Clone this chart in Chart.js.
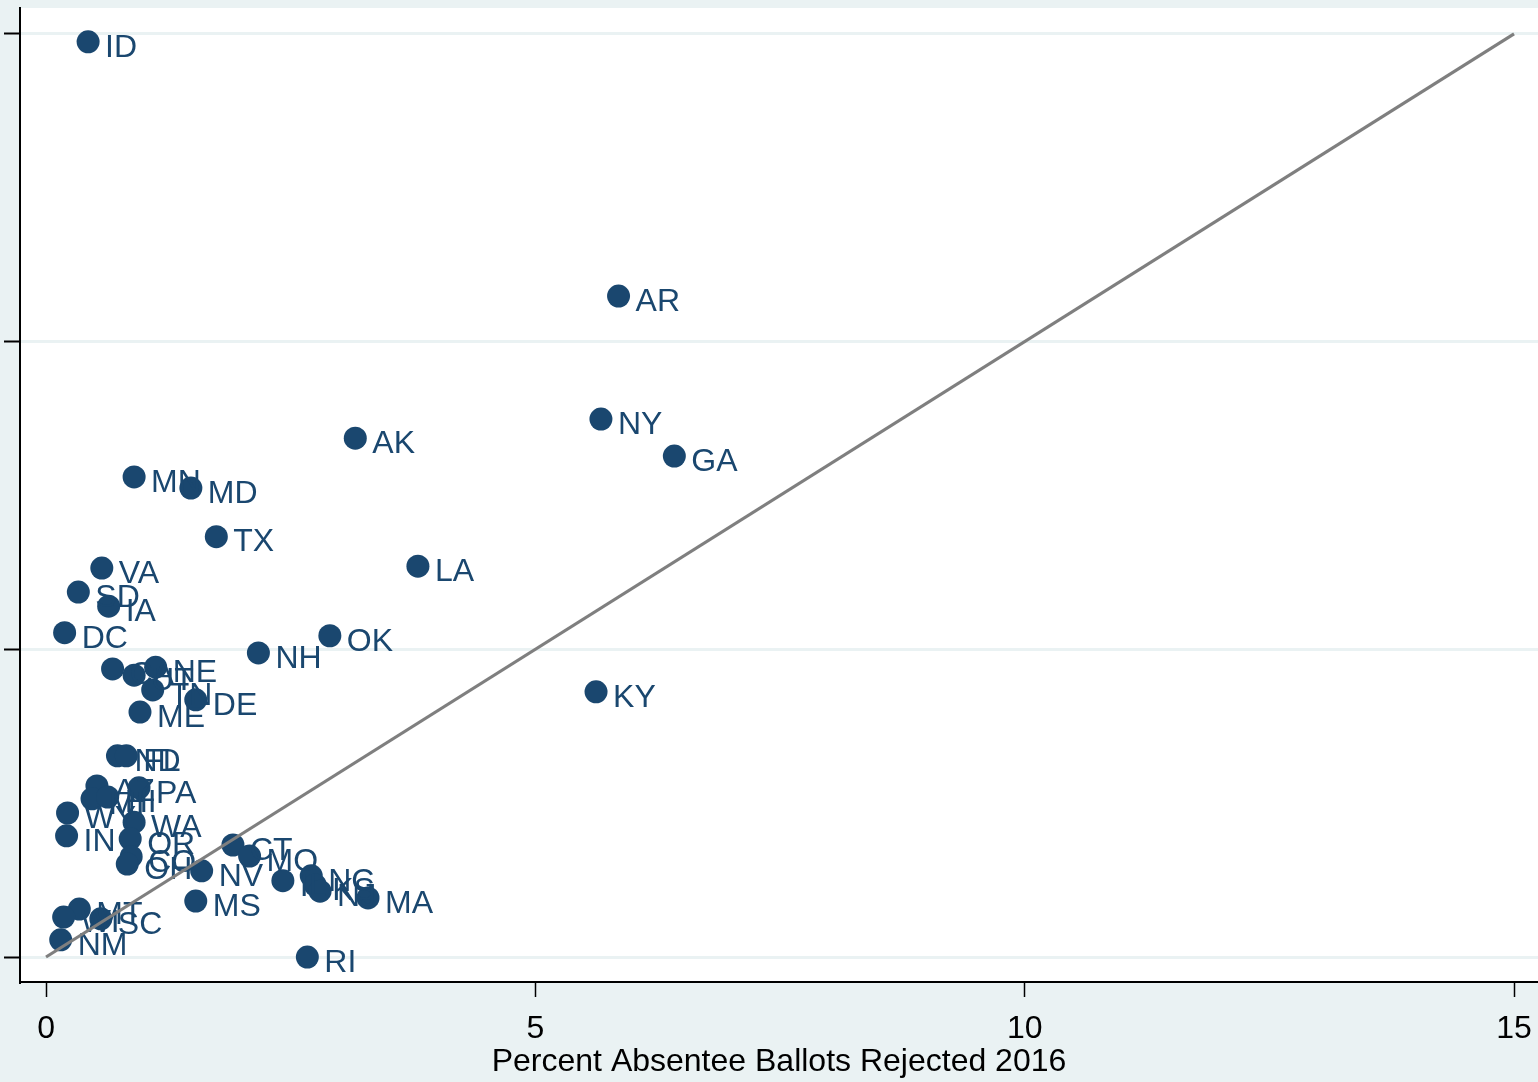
<!DOCTYPE html>
<html>
<head>
<meta charset="utf-8">
<script src="https://cdn.jsdelivr.net/npm/chart.js@4"></script>
<style>
  html, body { margin: 0; padding: 0; background: #eaf2f3; overflow: hidden; }
  #wrap { width: 1538px; height: 1082px; position: relative; }
</style>
</head>
<body>
<div id="wrap"><canvas id="scatterChart"></canvas></div>
<script>
// State codes and values
const states = [
  "ID", "AR", "NY", "GA", "AK", "MN", "MD", "TX", "LA", "VA",
  "SD", "IA", "DC", "OK", "NH", "KY", "CA", "UT", "NE", "TN",
  "DE", "ME", "ND", "FL", "AZ", "PA", "MI", "HI", "WY", "IN",
  "WA", "OR", "CO", "OH", "CT", "MO", "NV", "MS", "IL", "NC",
  "KS", "NJ", "MA", "RI", "NM", "MT", "WI", "SC"
];
const rejected2016 = [
  0.43, 5.85, 5.67, 6.42, 3.16, 0.90, 1.48, 1.74, 3.80, 0.57,
  0.33, 0.64, 0.19, 2.90, 2.17, 5.62, 0.68, 0.90, 1.12, 1.09,
  1.53, 0.96, 0.73, 0.82, 0.52, 0.95, 0.47, 0.63, 0.22, 0.21,
  0.90, 0.86, 0.87, 0.83, 1.91, 2.08, 1.59, 1.53, 2.42, 2.71,
  2.75, 2.80, 3.29, 2.67, 0.15, 0.34, 0.18, 0.56
];
const otherValue = [
  14.87, 10.74, 8.74, 8.14, 8.43, 7.80, 7.62, 6.83, 6.35, 6.32,
  5.93, 5.70, 5.27, 5.22, 4.94, 4.31, 4.68, 4.58, 4.71, 4.34,
  4.18, 3.98, 3.27, 3.27, 2.78, 2.75, 2.57, 2.60, 2.34, 1.97,
  2.19, 1.92, 1.63, 1.51, 1.82, 1.64, 1.40, 0.91, 1.24, 1.32,
  1.17, 1.07, 0.96, 0.00, 0.28, 0.78, 0.65, 0.62
];
// 45 degree reference line
const lineX = [0, 15];
const lineY = [0, 15];
const xTicks = [0, 5, 10, 15];
const yTicks = [0, 5, 10, 15];

const navy = "#1a476f";
const bgColor = "#eaf2f3";
const fontFamily = "'Liberation Sans', Arial, sans-serif";

// white plot region
const plotBackground = {
  id: "plotBackground",
  beforeDraw(chart) {
    const { ctx, chartArea } = chart;
    ctx.save();
    ctx.fillStyle = "#ffffff";
    ctx.fillRect(chartArea.left, chartArea.top, chartArea.right - chartArea.left, chartArea.bottom - chartArea.top);
    ctx.restore();
  },
};

// marker labels, drawn right after the scatter so the line sits on top
const markerLabels = {
  id: "markerLabels",
  afterDatasetDraw(chart, args) {
    if (args.index !== 1) return;
    const { ctx } = chart;
    ctx.save();
    ctx.fillStyle = navy;
    ctx.font = "32px " + fontFamily;
    ctx.textAlign = "left";
    ctx.textBaseline = "middle";
    args.meta.data.forEach((pt, i) => {
      ctx.fillText(states[i], pt.x + 17, pt.y + 6);
    });
    ctx.restore();
  },
};

new Chart(document.getElementById("scatterChart"), {
  type: "scatter",
  data: {
    datasets: [
      {
        label: "45 degree line",
        data: lineX.map((x, i) => ({ x: x, y: lineY[i] })),
        showLine: true,
        borderColor: "#7f7f7f",
        borderWidth: 3.2,
        pointRadius: 0,
        order: 0,
      },
      {
        label: "States",
        data: rejected2016.map((x, i) => ({ x: x, y: otherValue[i] })),
        backgroundColor: navy,
        borderWidth: 0,
        pointRadius: 11.5,
        pointHoverRadius: 11.5,
        order: 1,
      },
    ],
  },
  options: {
    responsive: true,
    maintainAspectRatio: false,
    animation: false,
    layout: { autoPadding: false, padding: { top: 8, right: 0, left: 0, bottom: 0 } },
    plugins: {
      legend: { display: false },
      tooltip: { enabled: false },
    },
    scales: {
      x: {
        type: "linear",
        min: -0.266,
        max: 15.245,
        afterBuildTicks: (scale) => {
          scale.ticks = xTicks.map((v) => ({ value: v }));
        },
        afterFit: (scale) => {
          scale.height = 100;
          scale.paddingLeft = 0;
          scale.paddingRight = 0;
        },
        grid: {
          drawOnChartArea: false,
          drawTicks: true,
          tickLength: 15,
          tickColor: "#000000",
          tickWidth: 1.5,
        },
        border: { color: "#000000", width: 2 },
        ticks: {
          color: "#000000",
          font: { family: fontFamily, size: 32 },
          padding: 13,
          maxRotation: 0,
        },
        title: {
          display: true,
          text: "Percent Absentee Ballots Rejected 2016",
          color: "#000000",
          font: { family: fontFamily, size: 32 },
          padding: { top: 0, bottom: 1 },
        },
      },
      y: {
        type: "linear",
        min: -0.406,
        max: 15.42,
        afterBuildTicks: (scale) => {
          scale.ticks = yTicks.map((v) => ({ value: v }));
        },
        afterFit: (scale) => {
          scale.width = 20;
          scale.paddingTop = 0;
          scale.paddingBottom = 0;
        },
        grid: {
          color: bgColor,
          lineWidth: 3,
          drawTicks: true,
          tickLength: 16,
          tickColor: "#000000",
          tickWidth: 2,
        },
        border: { color: "#000000", width: 2 },
        ticks: { display: false },
      },
    },
  },
  plugins: [plotBackground, markerLabels],
});
</script>
</body>
</html>
